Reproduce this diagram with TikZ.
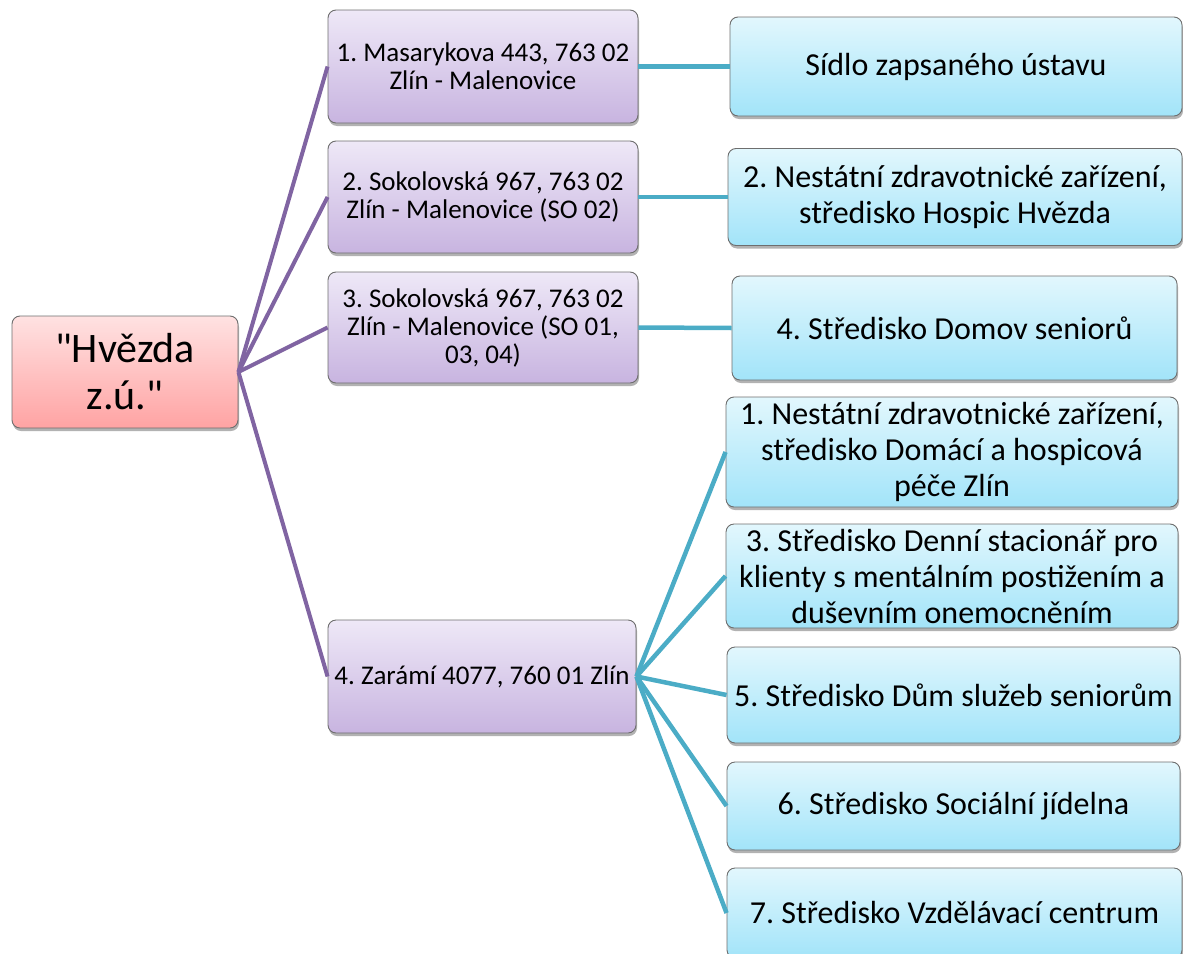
\documentclass[tikz,border=0pt]{standalone}
\usepackage{fontspec}
\setmainfont{Carlito}[Ligatures=TeXOff]
\usetikzlibrary{shadows}
\definecolor{purpline}{HTML}{8064A2}
\definecolor{cyanline}{HTML}{4BACC6}
\definecolor{rootTop}{HTML}{FFE2E2}
\definecolor{rootBot}{HTML}{FFA3A3}
\definecolor{purpTop}{HTML}{EEE8F7}
\definecolor{purpBot}{HTML}{C8B4E0}
\definecolor{cyanTop}{HTML}{E2F7FD}
\definecolor{cyanBot}{HTML}{A2E4F9}
\definecolor{boxEdge}{HTML}{6E6E6E}
\frenchspacing
\begin{document}
\begin{tikzpicture}[x=1pt,y=-1pt,
  box/.style={rectangle, rounded corners=8pt, draw=boxEdge, line width=0.9pt,
    align=center, inner sep=0pt,
    drop shadow={shadow xshift=1pt, shadow yshift=-3pt, opacity=0.3, fill=black}},
  rootbox/.style={box, top color=rootTop, bottom color=rootBot,
    font=\fontsize{42}{47}\selectfont},
  addrbox/.style={box, top color=purpTop, bottom color=purpBot,
    font=\fontsize{27}{28}\selectfont},
  unitbox/.style={box, top color=cyanTop, bottom color=cyanBot,
    font=\fontsize{32}{36}\selectfont},
  plink/.style={draw=purpline, line width=4pt},
  clink/.style={draw=cyanline, line width=4.5pt}]
\useasboundingbox (0,0) rectangle (1183,953);
\clip (0,0) rectangle (1183,953);

% root
\node[rootbox, minimum width=226pt, minimum height=112pt] (root) at (125,372) {"Hvězda\\z.ú."};

% addresses
\node[addrbox, minimum width=310pt, minimum height=113pt] (p1) at (483,66.5) {1. Masarykova 443, 763 02\\Zlín - Malenovice};
\node[addrbox, minimum width=310pt, minimum height=112pt] (p2) at (483,197) {2. Sokolovská 967, 763 02\\Zlín - Malenovice (SO 02)};
\node[addrbox, minimum width=310pt, minimum height=111pt] (p3) at (483,327.5) {3. Sokolovská 967, 763 02\\Zlín - Malenovice (SO 01,\\03, 04)};
\node[addrbox, minimum width=308pt, minimum height=113pt] (p4) at (482,676.5) {4. Zarámí 4077, 760 01 Zlín};

% units
\node[unitbox, minimum width=452pt, minimum height=99pt] (c1) at (956,66.5) {Sídlo zapsaného ústavu};
\node[unitbox, minimum width=454pt, minimum height=97pt] (c2) at (955,197) {2. Nestátní zdravotnické zařízení,\\středisko Hospic Hvězda};
\node[unitbox, minimum width=445pt, minimum height=104pt] (c3) at (954.5,328) {4. Středisko Domov seniorů};
\node[unitbox, minimum width=452pt, minimum height=110pt] (c4) at (952,452) {1. Nestátní zdravotnické zařízení,\\středisko Domácí a hospicová\\péče Zlín};
\node[unitbox, minimum width=452pt, minimum height=104pt] (c5) at (952,576) {3. Středisko Denní stacionář pro\\klienty s mentálním postižením a\\duševním onemocněním};
\node[unitbox, minimum width=453pt, minimum height=96pt] (c6) at (953.5,695) {5. Středisko Dům služeb seniorům};
\node[unitbox, minimum width=453pt, minimum height=88pt] (c7) at (953.5,806) {6. Středisko Sociální jídelna};
\node[unitbox, minimum width=455pt, minimum height=90pt] (c8) at (954.5,913) {7. Středisko Vzdělávací centrum};

% connectors
\foreach \p in {p1,p2,p3,p4} \draw[plink] (root.east) -- (\p.west);
\draw[clink] (p1.east) -- (c1.west);
\draw[clink] (p2.east) -- (c2.west);
\draw[clink] (p3.east) -- (c3.west);
\foreach \c in {c4,c5,c6,c7,c8} \draw[clink] (p4.east) -- (\c.west);
\end{tikzpicture}
\end{document}
